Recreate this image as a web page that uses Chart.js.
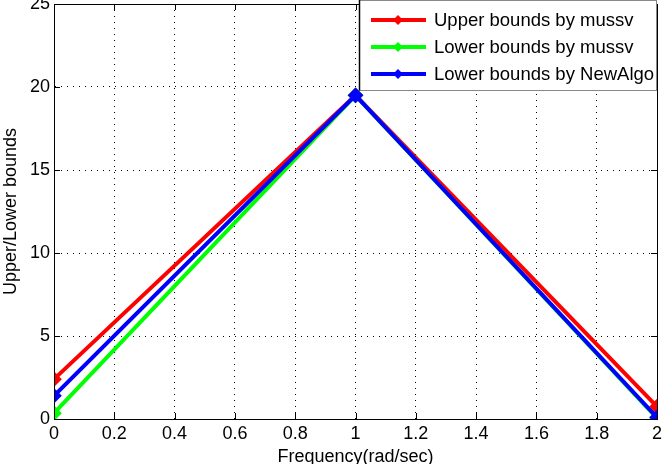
<!DOCTYPE html>
<html>
<head>
<meta charset="utf-8">
<script src="https://cdn.jsdelivr.net/npm/chart.js@4"></script>
<style>
  html, body { margin: 0; padding: 0; background: #fff; }
  canvas { display: block; }
</style>
</head>
<body>
<canvas id="boundsChart" width="666" height="464"></canvas>
<script>
// Valeurs
const frequencies = [0, 1, 2];
const upperMussv = [2.4, 19.5, 0.75];
const lowerMussv = [0.35, 19.5, 0.05];
const lowerNewAlgo = [1.4, 19.5, 0.1];
const seriesNames = ["Upper bounds by mussv", "Lower bounds by mussv", "Lower bounds by NewAlgo"];
const seriesColors = ["#ff0000", "#00ff00", "#0000ff"];
const xTicks = [0, 0.2, 0.4, 0.6, 0.8, 1, 1.2, 1.4, 1.6, 1.8, 2];
const yTicks = [0, 5, 10, 15, 20, 25];

const FONT = "Liberation Sans, Arial, sans-serif";
const NO_PAD = () => ({ left: 0, top: 0, right: 0, bottom: 0 });

function toPoints(values) {
    return frequencies.map((f, i) => ({ x: f, y: values[i] }));
}

function makeDataset(label, values, color, order) {
    return {
        label: label,
        data: toPoints(values),
        order: order,
        borderColor: color,
        backgroundColor: color,
        borderWidth: 4,
        pointStyle: "rectRot",
        pointRadius: 5,
        pointBackgroundColor: color,
        pointBorderColor: color,
        tension: 0,
        fill: false,
    };
}

// Cadre autour de la zone de tracé + légende façon MATLAB
const frameAndLegend = {
    id: "frameAndLegend",
    afterDatasetsDraw(chart) {
        const { ctx, chartArea } = chart;
        ctx.save();
        ctx.strokeStyle = "#000";
        ctx.lineWidth = 1;
        ctx.strokeRect(chartArea.left + 0.5, chartArea.top + 0.5,
            chartArea.right - chartArea.left, chartArea.bottom - chartArea.top);

        // petites graduations intérieures
        const xs = chart.scales.x, ys = chart.scales.y;
        ctx.beginPath();
        xTicks.forEach((t) => {
            const px = Math.round(xs.getPixelForValue(t)) + 0.5;
            ctx.moveTo(px, chartArea.bottom); ctx.lineTo(px, chartArea.bottom - 6);
            ctx.moveTo(px, chartArea.top); ctx.lineTo(px, chartArea.top + 6);
        });
        yTicks.forEach((t) => {
            const py = Math.round(ys.getPixelForValue(t)) + 0.5;
            ctx.moveTo(chartArea.left, py); ctx.lineTo(chartArea.left + 6, py);
            ctx.moveTo(chartArea.right, py); ctx.lineTo(chartArea.right - 6, py);
        });
        ctx.stroke();

        // légende
        const bx = 359.5, by = 0.5, bw = 297, bh = 90;
        ctx.fillStyle = "#fff";
        ctx.fillRect(bx, by, bw, bh);
        ctx.strokeStyle = "#888";
        ctx.strokeRect(bx, by, bw, bh);
        ctx.strokeStyle = "#000";
        ctx.lineWidth = 1.5;
        ctx.beginPath();
        ctx.moveTo(bx, 0); ctx.lineTo(bx, by + bh);
        ctx.stroke();
        const rows = [20, 47, 74];
        ctx.font = "18.5px " + FONT;
        ctx.textBaseline = "middle";
        seriesNames.forEach((name, i) => {
            const y = rows[i];
            ctx.strokeStyle = seriesColors[i];
            ctx.lineWidth = 4;
            ctx.beginPath();
            ctx.moveTo(371, y);
            ctx.lineTo(426, y);
            ctx.stroke();
            ctx.fillStyle = seriesColors[i];
            ctx.beginPath();
            ctx.moveTo(398, y - 5); ctx.lineTo(403, y); ctx.lineTo(398, y + 5); ctx.lineTo(393, y);
            ctx.closePath();
            ctx.fill();
            ctx.fillStyle = "#000";
            ctx.fillText(name, 434, y + 1);
        });
        ctx.restore();
    },
};

const ctx = document.getElementById("boundsChart").getContext("2d");
new Chart(ctx, {
    type: "line",
    data: {
        datasets: [
            makeDataset(seriesNames[0], upperMussv, seriesColors[0], 2),
            makeDataset(seriesNames[1], lowerMussv, seriesColors[1], 1),
            makeDataset(seriesNames[2], lowerNewAlgo, seriesColors[2], 0),
        ],
    },
    options: {
        responsive: false,
        animation: false,
        events: [],
        layout: {
            autoPadding: false,
            padding: { top: 4, right: 9, left: 0, bottom: 0 },
        },
        plugins: {
            legend: { display: false },
            tooltip: { enabled: false },
        },
        scales: {
            x: {
                type: "linear",
                min: 0,
                max: 2,
                afterBuildTicks: (scale) => { scale.ticks = xTicks.map((v) => ({ value: v })); },
                afterFit: (scale) => {
                    scale.height = 45;
                    scale.paddingLeft = 0;
                    scale.paddingRight = 0;
                    scale.getPadding = NO_PAD;
                },
                ticks: {
                    color: "#000",
                    font: { family: FONT, size: 18 },
                    padding: 4,
                    maxRotation: 0,
                    callback: (v) => String(Number(v.toFixed(1))),
                },
                grid: { color: "#000", drawTicks: false, lineWidth: 1 },
                border: { display: true, color: "#000", dash: [1, 5] },
                title: {
                    display: true,
                    text: "Frequency(rad/sec)",
                    color: "#000",
                    font: { family: FONT, size: 18 },
                    padding: { top: 0, bottom: -4 },
                },
            },
            y: {
                type: "linear",
                min: 0,
                max: 25,
                afterBuildTicks: (scale) => { scale.ticks = yTicks.map((v) => ({ value: v })); },
                afterFit: (scale) => {
                    scale.width = 54;
                    scale.paddingTop = 0;
                    scale.paddingBottom = 0;
                    scale.getPadding = NO_PAD;
                },
                ticks: {
                    color: "#000",
                    font: { family: FONT, size: 18 },
                    padding: 4,
                },
                grid: { color: "#000", drawTicks: false, lineWidth: 1 },
                border: { display: true, color: "#000", dash: [1, 5] },
                title: {
                    display: true,
                    text: "Upper/Lower bounds",
                    color: "#000",
                    font: { family: FONT, size: 18 },
                    padding: { top: 0, bottom: 0 },
                },
            },
        },
    },
    plugins: [frameAndLegend],
});
</script>
</body>
</html>
